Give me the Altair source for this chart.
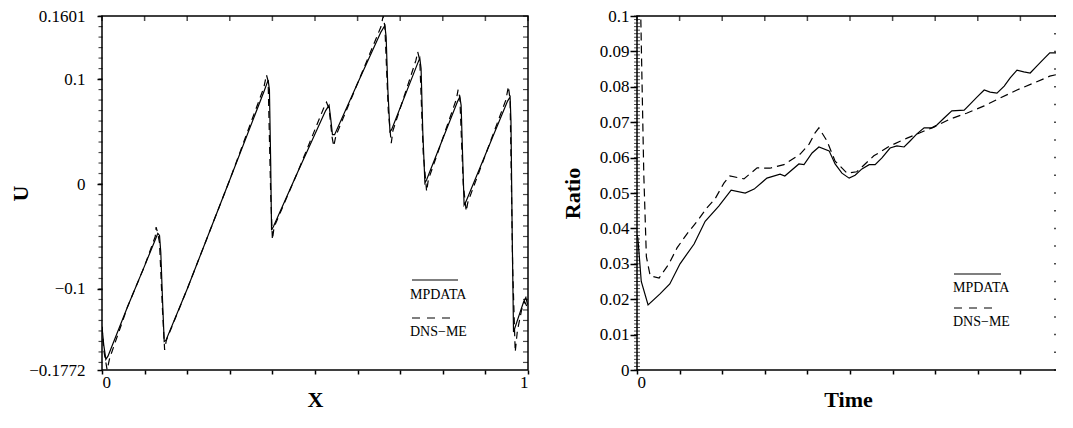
import altair as alt
import pandas as pd

# ---------------- Left panel: U vs X ----------------
X_MP = [0.000, 0.004, 0.009, 0.014, 0.060, 0.100, 0.125, 0.131, 0.135, 0.138, 0.142, 0.146, 0.150,
        0.200, 0.300, 0.380, 0.390, 0.393, 0.396, 0.398, 0.403, 0.460, 0.525, 0.533, 0.537, 0.541,
        0.546, 0.600, 0.655, 0.664, 0.667, 0.671, 0.676, 0.680, 0.740, 0.746, 0.749, 0.753, 0.758,
        0.762, 0.835, 0.840, 0.843, 0.847, 0.850, 0.854, 0.952, 0.958, 0.960, 0.963, 0.966, 0.980,
        0.990, 0.995, 0.999]
U_MP = [-0.136, -0.153, -0.167, -0.164, -0.117, -0.078, -0.053, -0.047, -0.049, -0.065, -0.110, -0.150, -0.149,
        -0.100, 0.004, 0.088, 0.099, 0.090, 0.020, -0.044, -0.040, 0.012, 0.070, 0.075, 0.062, 0.047,
        0.047, 0.096, 0.145, 0.151, 0.140, 0.090, 0.050, 0.052, 0.114, 0.120, 0.110, 0.050, 0.001,
        0.004, 0.079, 0.083, 0.075, 0.020, -0.020, -0.017, 0.079, 0.083, 0.060, -0.050, -0.141, -0.124,
        -0.112, -0.108, -0.115]

X_DNS = [0.000, 0.004, 0.012, 0.018, 0.060, 0.100, 0.125, 0.127, 0.131, 0.135, 0.142, 0.147, 0.151,
         0.200, 0.300, 0.380, 0.386, 0.390, 0.396, 0.400, 0.404, 0.460, 0.520, 0.527, 0.533, 0.540,
         0.544, 0.549, 0.600, 0.655, 0.660, 0.664, 0.672, 0.679, 0.683, 0.737, 0.741, 0.746, 0.754,
         0.762, 0.766, 0.832, 0.836, 0.840, 0.848, 0.855, 0.859, 0.948, 0.954, 0.958, 0.964, 0.970,
         0.975, 0.985, 0.992, 0.999]
U_DNS = [-0.136, -0.158, -0.177, -0.166, -0.117, -0.078, -0.050, -0.041, -0.047, -0.056, -0.120, -0.158, -0.149,
         -0.100, 0.004, 0.092, 0.104, 0.098, -0.010, -0.053, -0.041, 0.012, 0.072, 0.078, 0.072, 0.045,
         0.036, 0.046, 0.096, 0.150, 0.160, 0.150, 0.070, 0.039, 0.051, 0.118, 0.126, 0.118, 0.030,
         -0.007, 0.004, 0.081, 0.090, 0.082, 0.000, -0.026, -0.017, 0.080, 0.093, 0.080, -0.080, -0.160,
         -0.140, -0.120, -0.112, -0.118]

# ---------------- Right panel: Ratio vs Time ----------------
T_MP = [0.000, 0.002, 0.010, 0.026, 0.054, 0.077, 0.101, 0.134, 0.160, 0.192, 0.221, 0.254, 0.275, 0.305,
        0.336, 0.347, 0.380, 0.392, 0.411, 0.427, 0.451, 0.465, 0.481, 0.498, 0.512, 0.528, 0.545, 0.559,
        0.575, 0.594, 0.610, 0.627, 0.641, 0.657, 0.674, 0.692, 0.704, 0.721, 0.739, 0.768, 0.782, 0.798,
        0.815, 0.829, 0.845, 0.862, 0.876, 0.892, 0.908, 0.923, 0.939, 0.955, 0.969, 0.986, 1.000]
R_MP = [0.0380, 0.0373, 0.0250, 0.0184, 0.0215, 0.0243, 0.0300, 0.0356, 0.0420, 0.0463, 0.0508, 0.0500,
        0.0511, 0.0542, 0.0553, 0.0548, 0.0582, 0.0580, 0.0613, 0.0630, 0.0619, 0.0582, 0.0556, 0.0542,
        0.0550, 0.0568, 0.0580, 0.0580, 0.0599, 0.0627, 0.0633, 0.0630, 0.0647, 0.0667, 0.0684, 0.0684,
        0.0692, 0.0712, 0.0732, 0.0734, 0.0751, 0.0771, 0.0791, 0.0785, 0.0782, 0.0802, 0.0825, 0.0847,
        0.0842, 0.0839, 0.0859, 0.0879, 0.0896, 0.0896, 0.0893]

T_DNS = [0.009, 0.012, 0.016, 0.022, 0.031, 0.052, 0.075, 0.094, 0.117, 0.141, 0.164, 0.183, 0.204, 0.218,
         0.251, 0.282, 0.312, 0.345, 0.383, 0.404, 0.418, 0.427, 0.446, 0.465, 0.493, 0.516, 0.556, 0.594,
         0.634, 0.674, 0.697, 0.735, 0.775, 0.815, 0.852, 0.892, 0.932, 0.969, 1.000]
R_DNS = [0.0990, 0.0800, 0.0550, 0.0320, 0.0266, 0.0260, 0.0300, 0.0345, 0.0384, 0.0420, 0.0458, 0.0483,
         0.0528, 0.0548, 0.0540, 0.0571, 0.0570, 0.0580, 0.0610, 0.0638, 0.0670, 0.0684, 0.0647, 0.0590,
         0.0556, 0.0560, 0.0605, 0.0633, 0.0655, 0.0675, 0.0686, 0.0709, 0.0726, 0.0746, 0.0768, 0.0791,
         0.0811, 0.0830, 0.0839]

SERIES = ["MPDATA", "DNS\u2212ME"]

U_LABEL_VALUES = [-0.1772, -0.1, 0.0, 0.1, 0.1601]
U_MINOR = [round(-0.17 + 0.01 * i, 3) for i in range(34)]
X_TICKS = [round(0.1 * i, 1) for i in range(11)]
R_LABEL_VALUES = [round(0.01 * i, 2) for i in range(11)]
R_MINOR = [round(0.001 * i, 3) for i in range(101)]
R_RIGHT = [round(0.005 * i, 3) for i in range(21)]
T_TICKS = [round(0.1 * i, 1) for i in range(10)]

FONT = "Liberation Serif"
W1, W2, H = 426, 422, 354
XDOM1 = [0, 1]
UDOM = [-0.1772, 0.1601]
XDOM2 = [0, W2 / 426]
RDOM = [0, 0.1]

xs1 = alt.Scale(domain=XDOM1, nice=False, zero=False)
ys1 = alt.Scale(domain=UDOM, nice=False, zero=False)
xs2 = alt.Scale(domain=XDOM2, nice=False, zero=False)
ys2 = alt.Scale(domain=RDOM, nice=False, zero=False)

lab = dict(labelFont=FONT, labelFontSize=17, labelColor="black", titleFont=FONT,
           titleFontSize=22, titleFontWeight="bold", titleColor="black", tickColor="black",
           tickWidth=1.5, domain=False, grid=False)

# ---------- left panel ----------
df_mp1 = pd.DataFrame({"X": X_MP, "U": U_MP})
df_dns1 = pd.DataFrame({"X": X_DNS, "U": U_DNS})

x_axis1 = alt.Axis(values=X_TICKS, title="X", tickSize=4, labelPadding=0, titlePadding=-1,
                   labelExpr="datum.value == 0 || datum.value == 1 ? toString(datum.value) : ''", **lab)
y_axis1 = alt.Axis(values=U_LABEL_VALUES, title="U", tickSize=5, labelPadding=12, titlePadding=-4,
                   labelExpr="datum.value < 0 ? '\u2212' + toString(-datum.value) : toString(datum.value)", **lab)

line_mp1 = alt.Chart(df_mp1).mark_line(color="black", strokeWidth=1.2, clip=True).encode(
    x=alt.X("X:Q", scale=xs1, axis=x_axis1),
    y=alt.Y("U:Q", scale=ys1, axis=y_axis1),
)
line_dns1 = alt.Chart(df_dns1).mark_line(color="black", strokeWidth=1.2, strokeDash=[7, 5], clip=True).encode(
    x=alt.X("X:Q", scale=xs1, axis=x_axis1),
    y=alt.Y("U:Q", scale=ys1, axis=y_axis1),
)
minor_left1 = alt.Chart(pd.DataFrame({"U": U_MINOR})).mark_tick(
    orient="horizontal", color="black", size=4, thickness=1.2).encode(
    y=alt.Y("U:Q", scale=ys1, axis=y_axis1), x=alt.value(-1.5))
right_ticks1 = alt.Chart(pd.DataFrame({"U": U_MINOR})).mark_tick(
    orient="horizontal", color="black", size=5, thickness=1.2).encode(
    y=alt.Y("U:Q", scale=ys1, axis=y_axis1), x=alt.value(W1 - 2.5))
top_ticks1 = alt.Chart(pd.DataFrame({"X": X_TICKS})).mark_tick(
    orient="vertical", color="black", size=5, thickness=1.5).encode(
    x=alt.X("X:Q", scale=xs1, axis=x_axis1), y=alt.value(2.5))

leg_solid1 = alt.Chart(pd.DataFrame({"s": [SERIES[0]]})).mark_rule(color="black", strokeWidth=1.2).encode(
    x=alt.value(310), x2=alt.value(356), y=alt.value(264))
leg_dash1 = alt.Chart(pd.DataFrame({"s": [SERIES[1]]})).mark_rule(color="black", strokeWidth=1.2,
                                                                   strokeDash=[8, 7]).encode(
    x=alt.value(310), x2=alt.value(351), y=alt.value(302))
leg_t1a = alt.Chart(pd.DataFrame({"s": [SERIES[0]]})).mark_text(
    font=FONT, fontSize=14, align="left", baseline="alphabetic", color="black").encode(
    text="s:N", x=alt.value(308), y=alt.value(283))
leg_t1b = alt.Chart(pd.DataFrame({"s": [SERIES[1]]})).mark_text(
    font=FONT, fontSize=14, align="left", baseline="alphabetic", color="black").encode(
    text="s:N", x=alt.value(308), y=alt.value(320))

left = alt.layer(line_mp1, line_dns1, minor_left1, right_ticks1, top_ticks1,
                 leg_solid1, leg_dash1, leg_t1a, leg_t1b).properties(width=W1, height=H)

# ---------- right panel ----------
df_mp2 = pd.DataFrame({"T": T_MP, "R": R_MP})
df_dns2 = pd.DataFrame({"T": T_DNS, "R": R_DNS})

x_axis2 = alt.Axis(values=T_TICKS, title="Time", tickSize=4, labelPadding=0, titlePadding=-1,
                   labelExpr="datum.value == 0 ? '0' : ''", **lab)
y_axis2 = alt.Axis(values=R_LABEL_VALUES, title="Ratio", tickSize=7, labelPadding=1, titlePadding=15,
                   labelExpr="toString(datum.value)", **lab)

line_mp2 = alt.Chart(df_mp2).mark_line(color="black", strokeWidth=1.2, clip=True).encode(
    x=alt.X("T:Q", scale=xs2, axis=x_axis2),
    y=alt.Y("R:Q", scale=ys2, axis=y_axis2),
)
line_dns2 = alt.Chart(df_dns2).mark_line(color="black", strokeWidth=1.2, strokeDash=[8, 5], clip=True).encode(
    x=alt.X("T:Q", scale=xs2, axis=x_axis2),
    y=alt.Y("R:Q", scale=ys2, axis=y_axis2),
)
minor_left2 = alt.Chart(pd.DataFrame({"R": R_MINOR})).mark_tick(
    orient="horizontal", color="black", size=6, thickness=1).encode(
    y=alt.Y("R:Q", scale=ys2, axis=y_axis2), x=alt.value(0))
right_ticks2 = alt.Chart(pd.DataFrame({"R": R_RIGHT})).mark_tick(
    orient="horizontal", color="black", size=4, thickness=1.5).encode(
    y=alt.Y("R:Q", scale=ys2, axis=y_axis2), x=alt.value(W2 - 3))
top_ticks2 = alt.Chart(pd.DataFrame({"T": T_TICKS})).mark_tick(
    orient="vertical", color="black", size=5, thickness=1.5).encode(
    x=alt.X("T:Q", scale=xs2, axis=x_axis2), y=alt.value(2.5))

leg_solid2 = alt.Chart(pd.DataFrame({"s": [SERIES[0]]})).mark_rule(color="black", strokeWidth=1.2).encode(
    x=alt.value(317), x2=alt.value(364), y=alt.value(258))
leg_dash2 = alt.Chart(pd.DataFrame({"s": [SERIES[1]]})).mark_rule(color="black", strokeWidth=1.2,
                                                                   strokeDash=[8, 7]).encode(
    x=alt.value(317), x2=alt.value(358), y=alt.value(292))
leg_t2a = alt.Chart(pd.DataFrame({"s": [SERIES[0]]})).mark_text(
    font=FONT, fontSize=14, align="left", baseline="alphabetic", color="black").encode(
    text="s:N", x=alt.value(316), y=alt.value(276))
leg_t2b = alt.Chart(pd.DataFrame({"s": [SERIES[1]]})).mark_text(
    font=FONT, fontSize=14, align="left", baseline="alphabetic", color="black").encode(
    text="s:N", x=alt.value(316), y=alt.value(310))

right = alt.layer(line_mp2, line_dns2, minor_left2, right_ticks2, top_ticks2,
                  leg_solid2, leg_dash2, leg_t2a, leg_t2b).properties(width=W2, height=H)

chart = alt.hconcat(left, right, spacing=30).properties(
    padding={"left": 0, "top": -2, "right": -4, "bottom": 0}
).configure(background="white").configure_view(stroke="black", strokeWidth=1.5)

chart.save("out.html", embed_options={"renderer": "svg", "actions": False})
